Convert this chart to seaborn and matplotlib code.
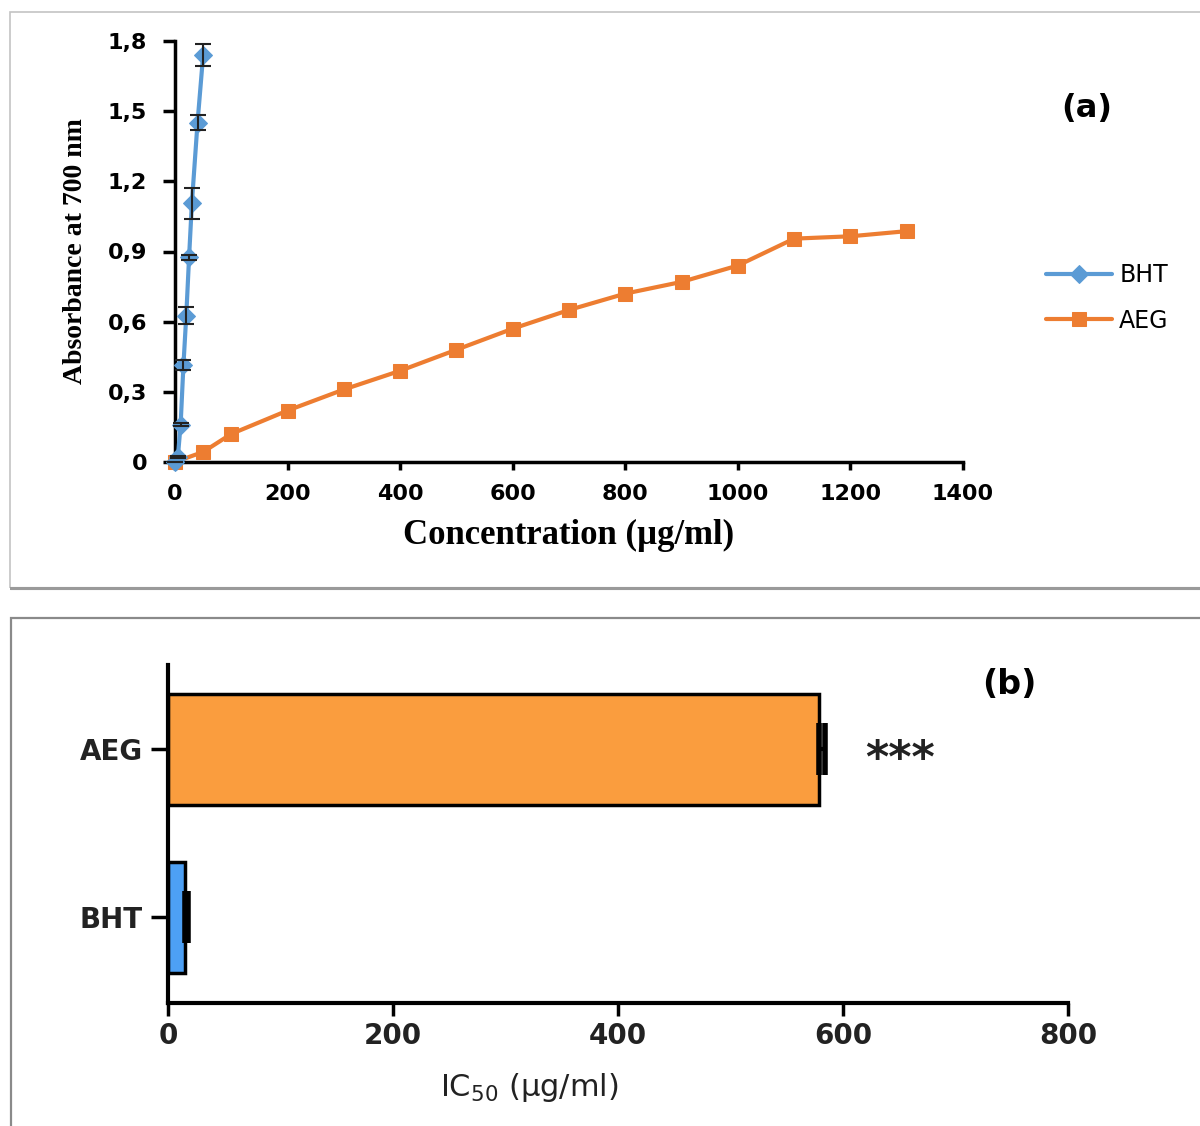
import numpy as np
import pandas as pd
import matplotlib
matplotlib.use("Agg")
import matplotlib.pyplot as plt
from matplotlib.patches import Rectangle
import seaborn as sns

# --- data: panel (a) absorbance vs concentration ---
bht_conc = [0, 5, 10, 15, 20, 25, 30, 40, 50]
bht_abs = [0.0, 0.02, 0.16, 0.415, 0.625, 0.875, 1.107, 1.45, 1.74]
bht_err = [0.0, 0.004, 0.006, 0.02, 0.036, 0.01, 0.066, 0.032, 0.046]
aeg_conc = [0, 50, 100, 200, 300, 400, 500, 600, 700, 800, 900, 1000, 1100, 1200, 1300]
aeg_abs = [0.0, 0.043, 0.12, 0.22, 0.31, 0.39, 0.48, 0.57, 0.65, 0.72, 0.77, 0.84, 0.955, 0.965, 0.987]
y_ticks = [0, 0.3, 0.6, 0.9, 1.2, 1.5, 1.8]
y_tick_labels = ["0", "0,3", "0,6", "0,9", "1,2", "1,5", "1,8"]
x_ticks = [0, 200, 400, 600, 800, 1000, 1200, 1400]

# --- data: panel (b) IC50 ---
ic50_names = ["AEG", "BHT"]
ic50_values = [579, 15]
ic50_err = [5, 3]
ic50_ticks = [0, 200, 400, 600, 800]

blue_line = "#5B9BD5"
orange_line = "#ED7D31"
bar_colors = ["#FA9D3E", "#4DA0F5"]

sns.set_style("ticks")
plt.rcParams["font.family"] = ["DejaVu Sans"]
plt.rcParams["text.color"] = "black"
plt.rcParams["xtick.color"] = "black"
plt.rcParams["ytick.color"] = "black"
plt.rcParams["axes.labelcolor"] = "black"

fig = plt.figure(figsize=(12, 11.26), dpi=100)
W, H = 1200, 1126

# panel frames
fig.patches.append(Rectangle((10 / W, 1 - 588 / H), 1.0, (588 - 12) / H, transform=fig.transFigure,
                             fill=False, edgecolor="#c4c4c4", lw=1.2))
fig.patches.append(Rectangle((10 / W, 1 - 588 / H), 1.0, 0, transform=fig.transFigure,
                             fill=False, edgecolor="#9a9a9a", lw=2.2))
fig.patches.append(Rectangle((11 / W, -0.05), 1.0, 1 - 618 / H + 0.05, transform=fig.transFigure,
                             fill=False, edgecolor="#8a8a8a", lw=1.6))

# ---------------- panel (a) ----------------
ax1 = fig.add_axes([175 / W, 1 - 462 / H, (963 - 175) / W, (462 - 41) / H])
sns.lineplot(x=bht_conc, y=bht_abs, ax=ax1, color=blue_line, marker="D", markersize=9,
             markeredgecolor=blue_line, linewidth=3, label="BHT", clip_on=False, zorder=4)
sns.lineplot(x=aeg_conc, y=aeg_abs, ax=ax1, color=orange_line, marker="s", markersize=10,
             markeredgecolor=orange_line, linewidth=3, label="AEG", clip_on=False, zorder=3)
ax1.errorbar(bht_conc, bht_abs, yerr=bht_err, fmt="none", ecolor="#222222", elinewidth=1.5,
             capsize=6, capthick=1.5, zorder=5, clip_on=False)

ax1.set_xlim(0, 1400)
ax1.set_ylim(0, 1.8)
ax1.set_xticks(x_ticks)
ax1.set_xticklabels([str(t) for t in x_ticks])
ax1.set_yticks(y_ticks)
ax1.set_yticklabels(y_tick_labels)
for s in ["top", "right"]:
    ax1.spines[s].set_visible(False)
for s in ["left", "bottom"]:
    ax1.spines[s].set_linewidth(2.5)
    ax1.spines[s].set_color("black")
ax1.tick_params(axis="y", direction="out", length=9, width=2.5, pad=11, labelsize=16)
ax1.tick_params(axis="x", direction="out", length=6, width=2.5, pad=10, labelsize=16)
for lab in ax1.get_xticklabels() + ax1.get_yticklabels():
    lab.set_fontweight("bold")

ax1.set_xlabel("Concentration (µg/ml)", family="Liberation Serif", fontweight="bold", fontsize=25)
ax1.set_ylabel("Absorbance at 700 nm", family="Liberation Serif", fontweight="bold", fontsize=20)
ax1.xaxis.set_label_coords(0.5, -0.135)
ax1.yaxis.set_label_coords(-0.11, 0.5)

ax1.legend(loc="center left", bbox_to_anchor=(1046 / W, 1 - 298 / H), bbox_transform=fig.transFigure,
           frameon=False, fontsize=17, handlelength=2.8, handletextpad=0.3, labelspacing=0.9,
           borderpad=0, borderaxespad=0)

fig.text(1087 / W, 1 - 108 / H, "(a)", fontsize=23, fontweight="bold", ha="center", va="center")

# ---------------- panel (b) ----------------
ax2 = fig.add_axes([168 / W, 1 - 1003 / H, (1068 - 168) / W, (1003 - 665) / H])
df = pd.DataFrame({"name": ic50_names, "ic50": ic50_values})
sns.barplot(data=df, x="ic50", y="name", hue="name", palette=bar_colors, legend=False,
            orient="h", width=0.66, saturation=1, edgecolor="black", linewidth=2.5,
            errorbar=None, ax=ax2)
ax2.errorbar(ic50_values, range(len(ic50_names)), xerr=[[0] * len(ic50_err), ic50_err],
             fmt="none", ecolor="black", elinewidth=3, capsize=19, capthick=4, zorder=5)
ax2.text(651, 0.06, "***", fontsize=32, fontweight="bold", ha="center", va="center", color="#222222")

ax2.set_xlim(0, 800)
ax2.set_ylim(1.51, -0.5)
ax2.set_xticks(ic50_ticks)
ax2.set_xticklabels([str(t) for t in ic50_ticks])
for s in ["top", "right"]:
    ax2.spines[s].set_visible(False)
for s in ["left", "bottom"]:
    ax2.spines[s].set_linewidth(3)
    ax2.spines[s].set_color("black")
ax2.tick_params(axis="y", direction="out", length=12, width=2.5, pad=6, labelsize=20)
ax2.tick_params(axis="x", direction="out", length=9, width=2.5, pad=5, labelsize=20)
for lab in ax2.get_xticklabels() + ax2.get_yticklabels():
    lab.set_fontweight("bold")
    lab.set_color("#222222")

ax2.set_ylabel("")
ax2.set_xlabel("IC$\\mathregular{_{50}}$ (µg/ml)", fontsize=22, fontweight="medium", color="#222222")
ax2.xaxis.set_label_coords(0.401, -0.2)

fig.text(1009 / W, 1 - 685 / H, "(b)", fontsize=24, fontweight="bold", ha="center", va="center")

fig.savefig("out.png", dpi=100)
